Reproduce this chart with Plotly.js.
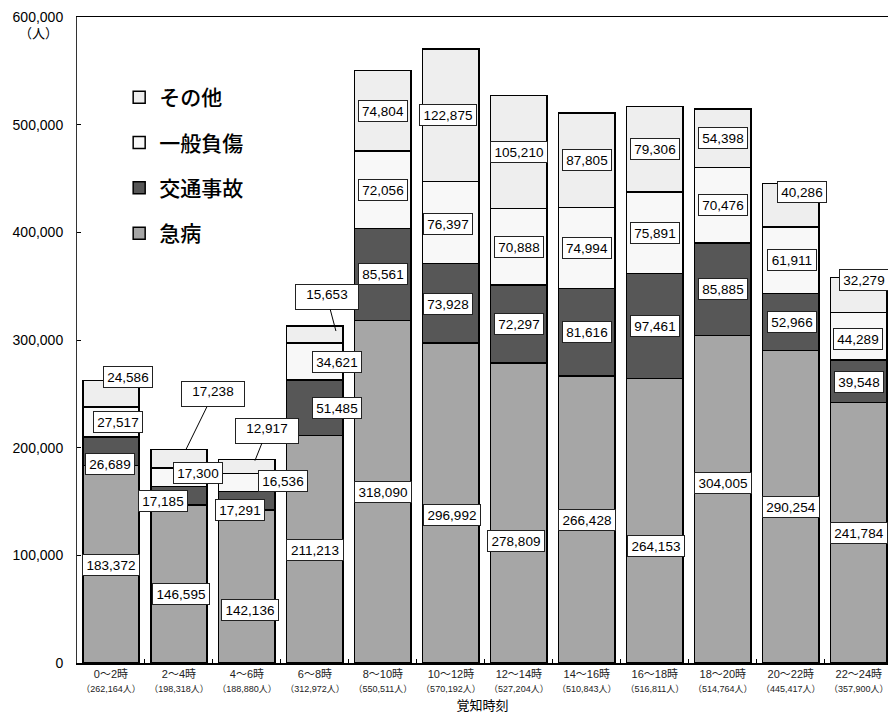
<!DOCTYPE html>
<html>
<head>
<meta charset="utf-8">
<script src="https://cdn.plot.ly/plotly-3.0.1.min.js"></script>
<style>
html,body{margin:0;padding:0;background:#fff;overflow:hidden;}
#chart{width:888px;height:714px;}
</style>
</head>
<body>
<div id="chart"></div>
<script>
// ---- data ----
const categories = ['0～2時','2～4時','4～6時','6～8時','8～10時','10～12時','12～14時','14～16時','16～18時','18～20時','20～22時','22～24時'];
const kyubyo   = [183372,146595,142136,211213,318090,296992,278809,266428,264153,304005,290254,241784]; // 急病
const kotsu    = [26689,17185,17291,51485,85561,73928,72297,81616,97461,85885,52966,39548];       // 交通事故
const ippan    = [27517,17300,16536,34621,72056,76397,70888,74994,75891,70476,61911,44289];       // 一般負傷
const sonota   = [24586,17238,12917,15653,74804,122875,105210,87805,79306,54398,40286,32279];     // その他
const seriesNames = ['急病','交通事故','一般負傷','その他'];

// ---- styles / label placement (pixels) ----
const colors = ['#a6a6a6','#575757','#f8f8f8','#eeeeee'];
const labelDx = [
  [0,2,3,0,0,1,-3,0,1,0,0,0],
  [-1,-16,-7,22,0,-3,0,0,0,0,1,0],
  [7,19,36,22,0,-3,0,0,0,0,1,-1],
  [17,0,0,0,0,-3,0,0,0,0,11,5]
];
const labelDy = [
  [1,10,24,1,0,12,28,0,25,-16,0,0],
  [13,5,9,0,0,1,0,0,0,0,0,1],
  [0,-4,-1,0,0,1,0,0,0,0,0,3],
  [-17,0,0,0,0,0,0,0,0,0,-13,-15]
];
// callouts for その他: [xshift of tip, yshift of tip, ax, ay]
const callouts = {1:[7,0,27,-55], 2:[8,-1,12,-30], 3:[21,-5,-9,-34]};

const allSeries = [kyubyo, kotsu, ippan, sonota];
const totals = categories.map((c,i)=>allSeries.reduce((s,a)=>s+a[i],0));
const fmt = v => v.toLocaleString('en-US');

const traces = allSeries.map((vals,k)=>({
  type:'bar', name:seriesNames[k], x:categories, y:vals,
  marker:{color:colors[k], line:{color:'#000', width:1.5}},
  width:0.83, legendgroup:'g'+k, legendrank:4-k, hoverinfo:'skip'
}));

const annotations = [];
const labelFont = {family:'Liberation Sans, Arial, sans-serif', size:13.5, color:'#000'};
allSeries.forEach((vals,k)=>{
  vals.forEach((v,i)=>{
    let base = 0;
    for(let j=0;j<k;j++) base += allSeries[j][i];
    const txt = fmt(v);
    const w = txt.length>6 ? 52 : 44;
    if(k===3 && callouts[i]){
      const c = callouts[i];
      annotations.push({x:categories[i], y:base+v, xref:'x', yref:'y', text:txt,
        showarrow:true, arrowhead:0, arrowwidth:1, arrowcolor:'#000', standoff:0,
        ax:c[2], ay:c[3], xshift:c[0], yshift:c[1],
        font:labelFont, bgcolor:'#fff', bordercolor:'#222', borderwidth:1, borderpad:2,
        width:58, height:20, valign:'top'});
    } else {
      annotations.push({x:categories[i], y:base+v/2, xref:'x', yref:'y', text:txt,
        showarrow:false, xshift:labelDx[k][i], yshift:-labelDy[k][i],
        font:labelFont, bgcolor:'#fff', bordercolor:'#222', borderwidth:1, borderpad:2,
        width:w, height:16});
    }
  });
});
annotations.push({xref:'paper', yref:'paper', x:-0.047, y:0.975, xanchor:'center', yanchor:'middle',
  text:'（人）', showarrow:false,
  font:{family:'Liberation Sans, Noto Sans CJK JP', size:13, color:'#000'}});

const ticktext = categories.map((c,i)=> c + '<br><span style="font-size:9px">（' + fmt(totals[i]) + '人）</span>');

const layout = {
  width:888, height:714,
  margin:{l:77, r:0, t:17, b:51},
  paper_bgcolor:'#fff', plot_bgcolor:'#fff',
  barmode:'stack',
  showlegend:true,
  legend:{x:0.052, y:0.907, xanchor:'left', yanchor:'top', traceorder:'grouped',
    tracegroupgap:15, bgcolor:'rgba(0,0,0,0)',
    font:{family:'Noto Sans CJK JP, sans-serif', size:21, weight:500, color:'#000'}},
  xaxis:{type:'category', range:[-0.5, 11.43], tickmode:'array', tickvals:categories, ticktext:ticktext,
    tickangle:0,
    tickson:'boundaries', ticks:'inside', ticklen:4, tickcolor:'#000',
    showline:true, linecolor:'#000', linewidth:1.5, mirror:true,
    showgrid:false, zeroline:false,
    tickfont:{family:'Liberation Sans, Noto Sans CJK JP, sans-serif', size:11, color:'#222'},
    title:{text:'覚知時刻', standoff:11, font:{family:'Noto Sans CJK JP, sans-serif', size:13, color:'#000'}}},
  yaxis:{range:[0,600000], dtick:100000, tickformat:',d', ticks:'inside', ticklen:4, tickcolor:'#000',
    showline:true, linecolor:'#333', linewidth:1, showgrid:false, zeroline:false,
    ticklabelstandoff:10,
    tickfont:{family:'Liberation Sans, Arial, sans-serif', size:14, color:'#000'}},
  annotations:annotations
};
Plotly.newPlot('chart', traces, layout, {displayModeBar:false, staticPlot:true});
</script>
</body>
</html>
